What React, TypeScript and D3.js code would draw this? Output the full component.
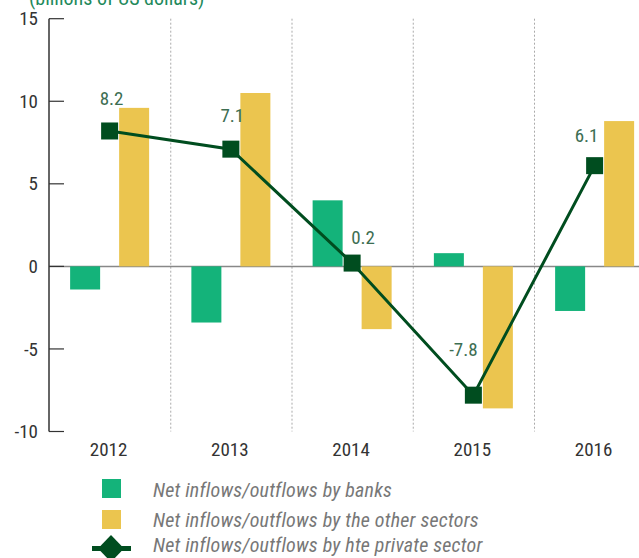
import React from "react";
import * as d3 from "d3";

const years = ["2012", "2013", "2014", "2015", "2016"];
const banks = [-1.4, -3.4, 4.0, 0.8, -2.7];
const otherSectors = [9.6, 10.5, -3.8, -8.6, 8.8];
const privateSector = [8.2, 7.1, 0.2, -7.8, 6.1];
const yTicks = [15, 10, 5, 0, -5, -10];
const legendLabels = [
  "Net inflows/outflows by banks",
  "Net inflows/outflows by the other sectors",
  "Net inflows/outflows by hte private sector",
];
const unitLabel = "(billions of US dollars)";

// label offsets relative to the marker (style only)
const labelOffsets = [
  [2, -26],
  [1.5, -27],
  [11, -19],
  [-10, -39],
  [-8, -24],
];

const W = 639;
const H = 558;
const FONT = "'Liberation Sans Narrow', 'Roboto Condensed', 'DejaVu Sans Condensed', 'Arial Narrow', sans-serif";
const C_BANK = "#14b37a";
const C_OTHER = "#ebc54f";
const C_LINE = "#004d1f";
const C_LABEL = "#3d6e52";

export default function App() {
  const x = d3.scaleBand<string>().domain(years).range([49, 49 + 5 * 121.25]).padding(0);
  const y = d3.scaleLinear().domain([-10, 15]).range([431.5, 18.7]);
  const bw = x.bandwidth();
  const cx = (i: number) => (x(years[i]) as number) + bw / 2;
  const barW = 30;
  const gap = 9.5;

  const line = d3
    .line<number>()
    .x((_, i) => cx(i))
    .y((d) => y(d));

  const ms = 17;

  return (
    <svg
      width={W}
      height={H}
      style={{ position: "absolute", left: 0, top: 0, background: "#fff" }}
      fontFamily={FONT}
    >
      {/* unit label (cut off at top, as in the source) */}
      <text x={29} y={5} fontSize={20} fill="#1f8a5c" fontFamily={FONT}>
        {unitLabel}
      </text>

      {/* separators */}
      {years.slice(1).map((yr) => (
        <line
          key={"sep" + yr}
          x1={(x(yr) as number) + 0.5}
          x2={(x(yr) as number) + 0.5}
          y1={y(15)}
          y2={y(-10)}
          stroke="#aaa"
          strokeWidth={1}
          strokeDasharray="2,2"
        />
      ))}

      {/* zero line */}
      <line x1={49} x2={W} y1={y(0)} y2={y(0)} stroke="#888" strokeWidth={1.5} />

      {/* bars */}
      {years.map((yr, i) => {
        const c = cx(i);
        return (
          <g key={"bars" + yr}>
            <rect
              x={c - gap - barW}
              width={barW}
              y={Math.min(y(0), y(banks[i]))}
              height={Math.abs(y(banks[i]) - y(0))}
              fill={C_BANK}
            />
            <rect
              x={c + gap}
              width={barW}
              y={Math.min(y(0), y(otherSectors[i]))}
              height={Math.abs(y(otherSectors[i]) - y(0))}
              fill={C_OTHER}
            />
          </g>
        );
      })}

      {/* y axis */}
      <line x1={49} x2={49} y1={y(15)} y2={y(-10)} stroke="#333" strokeWidth={1.5} />
      {yTicks.map((t) => (
        <g key={"yt" + t}>
          <line x1={49} x2={64} y1={y(t)} y2={y(t)} stroke="#333" strokeWidth={1.2} />
          <text
            x={38}
            y={y(t)}
            dy="0.35em"
            textAnchor="end"
            fontSize={19}
            fill="#333"
            fontFamily={FONT}
          >
            {t}
          </text>
        </g>
      ))}

      {/* x labels */}
      {years.map((yr, i) => (
        <text
          key={"xl" + yr}
          x={cx(i) - 1}
          y={456}
          textAnchor="middle"
          fontSize={19}
          fill="#333"
          fontFamily={FONT}
        >
          {yr}
        </text>
      ))}

      {/* private sector line */}
      <path d={line(privateSector) || ""} fill="none" stroke={C_LINE} strokeWidth={3} />
      {privateSector.map((v, i) => (
        <rect
          key={"m" + i}
          x={cx(i) - ms / 2}
          y={y(v) - ms / 2}
          width={ms}
          height={ms}
          fill={C_LINE}
        />
      ))}
      {privateSector.map((v, i) => (
        <text
          key={"lbl" + i}
          x={cx(i) + labelOffsets[i][0]}
          y={y(v) + labelOffsets[i][1]}
          textAnchor="middle"
          fontSize={19}
          fill={C_LABEL}
          fontFamily={FONT}
        >
          {v.toFixed(1)}
        </text>
      ))}

      {/* legend */}
      <rect x={102} y={479} width={19} height={19} fill={C_BANK} />
      <rect x={102} y={510} width={19} height={19} fill={C_OTHER} />
      <line x1={92} x2={131} y1={548.5} y2={548.5} stroke={C_LINE} strokeWidth={5} />
      <path d="M111,535 L124,548.5 L111,562 L98,548.5 Z" fill={C_LINE} />
      {legendLabels.map((l, i) => (
        <text
          key={"lg" + i}
          x={153}
          y={[497, 527, 552][i]}
          fontSize={20}
          letterSpacing={0.2}
          fontStyle="italic"
          fill="#777"
          fontFamily={FONT}
        >
          {l}
        </text>
      ))}
    </svg>
  );
}
